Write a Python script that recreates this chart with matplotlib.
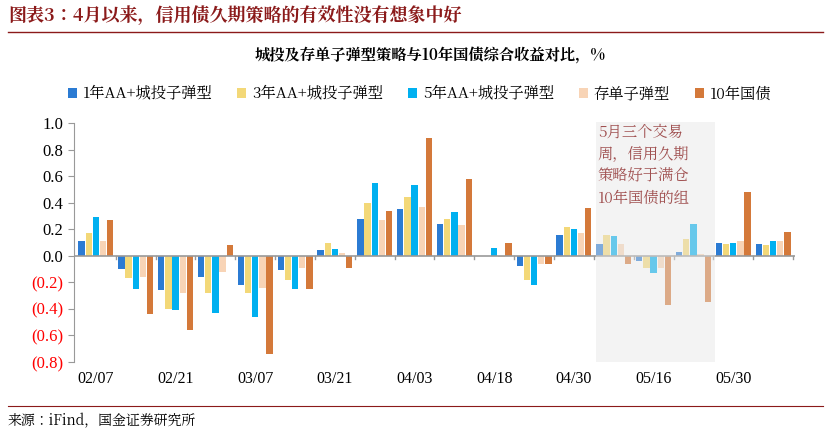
import matplotlib
matplotlib.use("Agg")
import matplotlib.pyplot as plt
from matplotlib import font_manager as fm
import numpy as np
from matplotlib.patches import Rectangle

cjk = [f for f in fm.fontManager.ttflist if "CJK" in f.name]
pref = [f for f in cjk if "SC" in f.name] or cjk
fam = pref[0].name if pref else "DejaVu Sans"
plt.rcParams["font.family"] = [fam, "DejaVu Sans"]

tick_labels = ["02/07", "02/21", "03/07", "03/21", "04/03", "04/18", "04/30", "05/16", "05/30"]
series_names = ["1年AA+城投子弹型", "3年AA+城投子弹型", "5年AA+城投子弹型", "存单子弹型", "10年国债"]
s1 = [0.11, -0.10, -0.26, -0.16, -0.22, -0.11, 0.04, 0.28, 0.35, 0.24, -0.005, -0.08, 0.16, 0.09, -0.04, 0.03, 0.10, 0.09]
s2 = [0.17, -0.17, -0.40, -0.28, -0.28, -0.18, 0.10, 0.40, 0.44, 0.28, 0.00, -0.18, 0.22, 0.16, -0.09, 0.13, 0.09, 0.08]
s3 = [0.29, -0.25, -0.41, -0.43, -0.46, -0.25, 0.05, 0.55, 0.53, 0.33, 0.06, -0.22, 0.20, 0.15, -0.13, 0.24, 0.10, 0.11]
s4 = [0.11, -0.16, -0.28, -0.12, -0.24, -0.09, 0.02, 0.27, 0.37, 0.23, -0.01, -0.06, 0.17, 0.09, -0.09, 0.01, 0.11, 0.11]
s5 = [0.27, -0.44, -0.56, 0.08, -0.74, -0.25, -0.09, 0.34, 0.89, 0.58, 0.10, -0.06, 0.36, -0.06, -0.37, -0.35, 0.48, 0.18]
colors = ["#2B7BD3", "#F3D878", "#00B0F0", "#F8D4B6", "#D4793A"]

fig = plt.figure(figsize=(8.31, 4.36), dpi=100)
W, H = 831, 436
ax = fig.add_axes([74/W, 1-362/H, (795-74)/W, (362-123)/H])

n = len(s1)
x = np.arange(n)
bw = 0.16
for i, (s, c) in enumerate(zip([s1, s2, s3, s4, s5], colors)):
    ax.bar(x + (i-2)*bw*1.12, s, width=bw, color=c, label=series_names[i], zorder=2)

ax.set_xlim(-0.55, n-0.45)
ax.set_ylim(-0.8, 1.0)
yt = np.arange(-0.8, 1.01, 0.2)
ax.set_yticks(yt)
labs = ["(%.1f)" % abs(v) if v < -1e-9 else "%.1f" % abs(v) for v in yt]
ax.set_yticklabels(labs, fontfamily="Liberation Serif", fontsize=12)
for t, v in zip(ax.get_yticklabels(), yt):
    if v < -1e-9:
        t.set_color("red")
ax.set_xticks([])
for sp in ["top", "right", "bottom"]:
    ax.spines[sp].set_visible(False)
ax.spines["left"].set_color("#999999")
ax.tick_params(axis="y", color="#999999", length=4, pad=4)
ax.axhline(0, color="#999999", lw=1.2, zorder=3)
for b in np.arange(0.5, n, 1.0):
    ax.plot([b, b], [0, -0.025], color="#999999", lw=1, zorder=3, clip_on=False)
for k, lab in enumerate(tick_labels):
    ax.text(2*k, -0.87, lab, ha="center", va="top", fontsize=11.5, fontfamily="Liberation Serif")

ax.add_patch(Rectangle((12.55, -0.8), 2.98, 1.81, facecolor="#E6E6E6", alpha=0.45, edgecolor="none", zorder=4, clip_on=False))
ax.text(12.6, 0.99, "5月三个交易\n周，信用久期\n策略好于满仓\n10年国债的组", ha="left", va="top", fontsize=11,
        color="#A05050", style="italic", linespacing=1.45, zorder=5)

fig.text(8/W, 1-16/H, "图表3：4月以来，信用债久期策略的有效性没有想象中好", fontsize=13, fontweight="bold",
         style="italic", color="#8B1A1A", va="center")
fig.add_artist(plt.Line2D([8/W, 823/W], [1-32/H, 1-32/H], color="#8B1A1A", lw=1))
fig.text(430/W, 1-55/H, "城投及存单子弹型策略与10年国债综合收益对比，%", fontsize=11, fontweight="bold", ha="center", va="center")
ax.legend(loc="lower center", bbox_to_anchor=(0.5 - 15/721, 1.03), ncol=5, frameon=False, fontsize=11,
          handlelength=0.6, handleheight=0.6, columnspacing=1.6, handletextpad=0.4)
fig.add_artist(plt.Line2D([8/W, 823/W], [1-406/H, 1-406/H], color="#8B1A1A", lw=0.8))
fig.text(8/W, 1-421/H, "来源：iFind，国金证券研究所", fontsize=10, va="center")
fig.savefig("out.png", dpi=100)
